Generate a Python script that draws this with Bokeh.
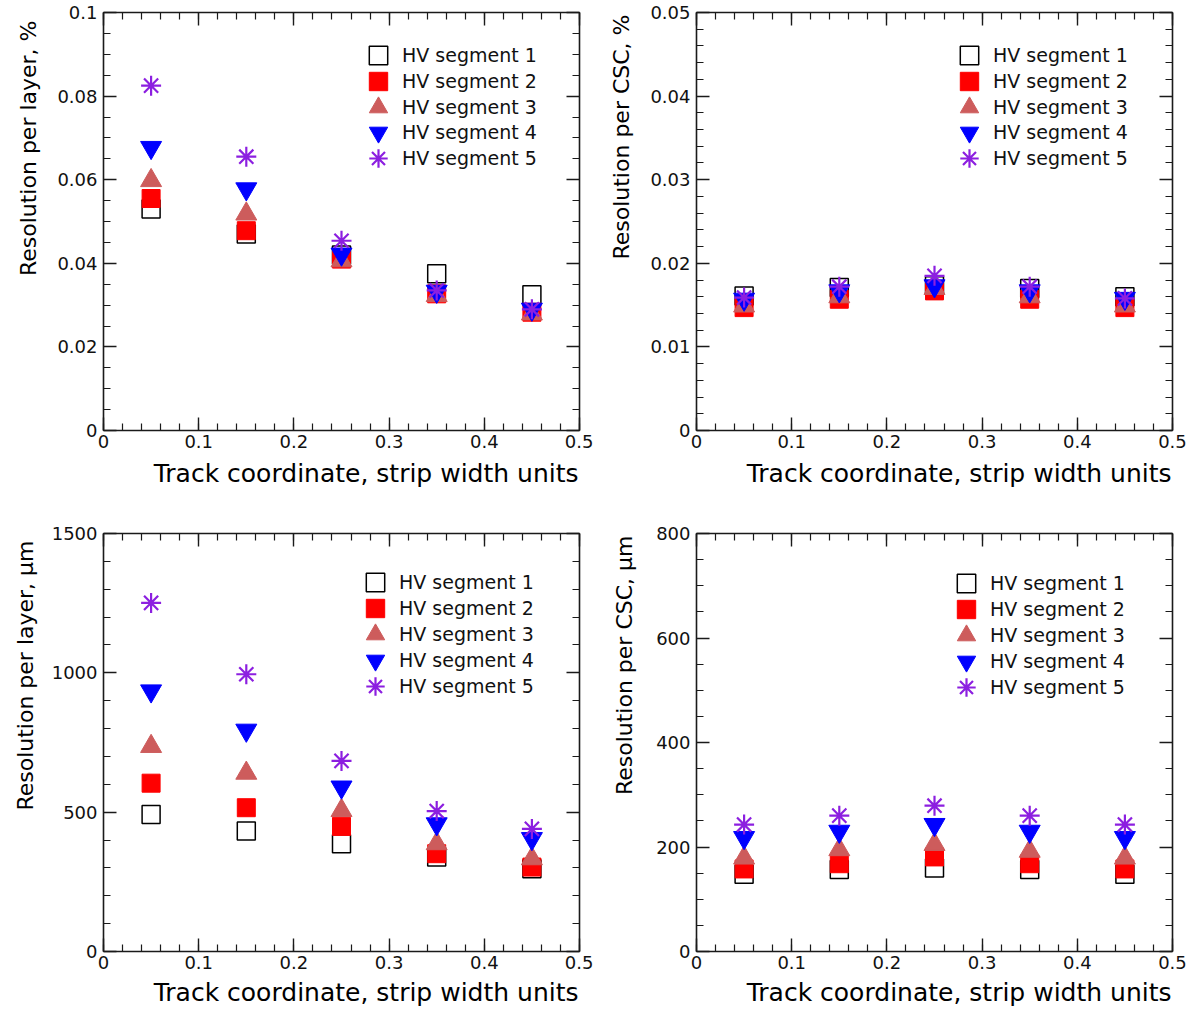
from bokeh.plotting import figure
from bokeh.layouts import column, row
from bokeh.models import (Range1d, SingleIntervalTicker, LinearAxis,
                          CustomJSTickFormatter, Legend, LegendItem, Title)
from bokeh.embed import file_html
from bokeh.resources import INLINE

# ---------------- data ----------------
track_x = [0.05, 0.15, 0.25, 0.35, 0.45]
series_names = ["HV segment 1", "HV segment 2", "HV segment 3",
                "HV segment 4", "HV segment 5"]

layer_pct = [
    [0.053, 0.047, 0.042, 0.0375, 0.0325],
    [0.0555, 0.0478, 0.041, 0.0327, 0.0283],
    [0.0598, 0.0518, 0.0406, 0.0323, 0.0279],
    [0.0677, 0.0578, 0.0422, 0.0333, 0.029],
    [0.0825, 0.0655, 0.0454, 0.0335, 0.029],
]
csc_pct = [
    [0.0161, 0.0171, 0.0173, 0.0170, 0.0160],
    [0.0147, 0.0157, 0.0167, 0.0157, 0.0147],
    [0.0149, 0.0160, 0.0170, 0.0160, 0.0149],
    [0.0157, 0.0167, 0.0173, 0.0167, 0.0158],
    [0.0159, 0.0172, 0.0185, 0.0172, 0.0158],
]
layer_um = [
    [492, 432, 387, 339, 297],
    [604, 516, 449, 351, 303],
    [736, 640, 506, 387, 333],
    [935, 794, 590, 458, 405],
    [1251, 995, 684, 504, 440],
]
csc_um = [
    [148, 157, 160, 157, 148],
    [158, 168, 181, 168, 158],
    [179, 195, 205, 192, 179],
    [218, 230, 243, 230, 218],
    [243, 260, 279, 260, 243],
]

x_label = "Track coordinate, strip width units"

# ---------------- styles ----------------
styles = [
    dict(marker="square", size=18, line_color="black", fill_color=None, line_width=1.5),
    dict(marker="square", size=18, line_color="#ff0000", fill_color="#ff0000", line_width=1),
    dict(marker="triangle", size=21, line_color="#cd5c5c", fill_color="#cd5c5c", line_width=1),
    dict(marker="inverted_triangle", size=21, line_color="#0000ff", fill_color="#0000ff", line_width=1),
    dict(marker="asterisk", size=20, line_color="#8c1fe0", fill_color=None, line_width=2.2),
]

FONT = "DejaVu Sans"
AXC = "#1a1a1a"
FRAME_W, FRAME_H = 476, 418
GLYPH = 46

fmt_code = "return String(parseFloat(tick.toFixed(6)));"


def style_axis(ax, show_labels):
    ax.axis_line_color = AXC
    ax.axis_line_width = 1.6
    ax.major_tick_line_color = AXC
    ax.minor_tick_line_color = AXC
    ax.major_tick_line_width = 1.4
    ax.minor_tick_line_width = 1.2
    ax.major_tick_in = 13
    ax.major_tick_out = 0
    ax.minor_tick_in = 7
    ax.minor_tick_out = 0
    if show_labels:
        ax.formatter = CustomJSTickFormatter(code=fmt_code)
        ax.major_label_text_font = FONT
        ax.major_label_text_font_size = "18px"
        ax.major_label_text_color = "#111111"
    else:
        ax.formatter = CustomJSTickFormatter(code="return '';")
        ax.major_label_text_font_size = "1px"
        ax.major_label_standoff = 0


def make_panel(data, y_max, y_int, y_minor, y_label, borders, xlab_standoff,
               ylab_standoff, ylab_offset, legend_left, legend_row0, legend_step):
    bl, br, bt, bb = borders
    p = figure(frame_width=FRAME_W, frame_height=FRAME_H,
               x_range=Range1d(0, 0.5), y_range=Range1d(0, y_max),
               output_backend="svg", toolbar_location=None,
               min_border_left=bl, min_border_right=br,
               min_border_top=bt, min_border_bottom=bb,
               background_fill_color="white", border_fill_color="white")
    p.outline_line_color = None
    p.grid.visible = False

    xa = p.xaxis[0]
    ya = p.yaxis[0]
    xa.ticker = SingleIntervalTicker(interval=0.1, num_minor_ticks=5)
    ya.ticker = SingleIntervalTicker(interval=y_int, num_minor_ticks=y_minor)
    style_axis(xa, True)
    style_axis(ya, True)
    xa.major_label_standoff = 4
    ya.major_label_standoff = 6

    top = LinearAxis(ticker=SingleIntervalTicker(interval=0.1, num_minor_ticks=5))
    right = LinearAxis(ticker=SingleIntervalTicker(interval=y_int, num_minor_ticks=y_minor))
    style_axis(top, False)
    style_axis(right, False)
    p.add_layout(top, "above")
    p.add_layout(right, "right")

    # axis titles, aligned to the right / top end as in the reference
    p.add_layout(Title(text=x_label, align="right", offset=1, standoff=xlab_standoff,
                       text_font=FONT, text_font_size="25px",
                       text_font_style="normal", text_color="#000000"), "below")
    p.add_layout(Title(text=y_label, align="right", offset=ylab_offset,
                       standoff=ylab_standoff,
                       text_font=FONT, text_font_size="22px",
                       text_font_style="normal", text_color="#000000"), "left")

    for i, (name, ys, st) in enumerate(zip(series_names, data, styles)):
        r = p.scatter(track_x, ys, **st)
        row_center = legend_row0 + legend_step * i
        lg = Legend(items=[LegendItem(label=name, renderers=[r])],
                    location=(legend_left, FRAME_H - row_center - GLYPH / 2))
        lg.border_line_color = None
        lg.background_fill_alpha = 0
        lg.padding = 0
        lg.margin = 0
        lg.glyph_width = GLYPH
        lg.glyph_height = GLYPH
        lg.label_height = GLYPH
        lg.label_standoff = 1
        lg.label_text_font = FONT
        lg.label_text_font_size = "19px"
        lg.label_text_color = "#111111"
        p.add_layout(lg)
    return p


p1 = make_panel(layer_pct, 0.1, 0.02, 4, "Resolution per layer, %",
                (103, 14, 12, 76), 12, 27, 8, 252, 43, 25.75)
p2 = make_panel(csc_pct, 0.05, 0.01, 5, "Resolution per CSC, %",
                (103, 16, 12, 76), 12, 27, 2, 250, 43, 25.75)
p3 = make_panel(layer_um, 1500, 500, 5, "Resolution per layer, \u00b5m",
                (103, 14, 27, 62), 9, 21, 7, 249, 49, 26)
p4 = make_panel(csc_um, 800, 200, 4, "Resolution per CSC, \u00b5m",
                (103, 16, 27, 62), 9, 33, 2, 247, 50, 26)

layout = column(row(p1, p2), row(p3, p4))

open("out.html", "w").write(file_html(layout, INLINE))
